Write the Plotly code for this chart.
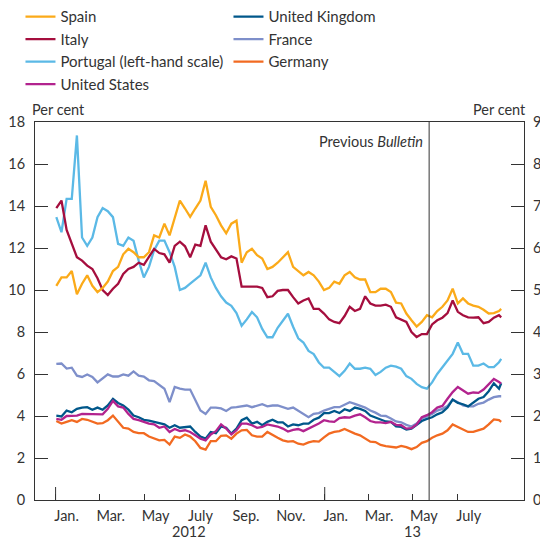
import pandas as pd
import plotly.graph_objects as go

# Weekly observation dates (Mondays) plus the last observation
dates = list(pd.date_range("2012-01-02", periods=87, freq="7D").strftime("%Y-%m-%d")) + ["2013-08-29"]

# Portugal: left-hand scale (per cent)
portugal = [13.47, 12.75, 14.34, 14.34, 17.36, 12.5, 12.1, 12.5, 13.47, 13.9, 13.75, 13.47, 12.2, 12.1, 12.5, 12.35, 11.4, 10.6, 11.1, 11.9, 12.35,
            12.35, 11.8, 11.1, 10.0, 10.1, 10.3, 10.5, 10.7, 11.3, 10.6, 10.1, 9.7, 9.4, 9.25, 8.9, 8.3, 8.6, 8.95, 8.7, 8.15, 7.75, 7.75, 8.2,
            8.55, 8.87, 8.25, 7.7, 7.5, 7.1, 6.95, 6.55, 6.3, 6.3, 6.1, 5.9, 6.15, 6.5, 6.25, 6.25, 6.3, 6.25, 5.95, 6.1, 6.3, 6.4, 6.35,
            6.25, 5.9, 5.77, 5.53, 5.37, 5.3, 5.6, 6.0, 6.33, 6.64, 6.96, 7.5, 6.96, 6.96, 6.4, 6.4, 6.5, 6.33, 6.33, 6.56, 6.72]

# Others: right-hand scale (per cent)
spain = [5.10, 5.30, 5.30, 5.45, 4.90, 5.15, 5.35, 5.10, 4.95, 5.05, 5.20, 5.45, 5.55, 5.85, 5.98, 5.90, 5.78, 5.78, 5.90, 6.30, 6.25,
         6.58, 6.30, 6.74, 7.13, 6.94, 6.74, 6.94, 7.13, 7.60, 6.98, 6.78, 6.54, 6.35, 6.58, 6.65, 5.65, 5.90, 5.98, 5.83, 5.75, 5.50, 5.55, 5.65,
         5.78, 5.90, 5.55, 5.45, 5.35, 5.43, 5.35, 5.20, 5.00, 5.05, 5.20, 5.15, 5.35, 5.43, 5.30, 5.25, 5.25, 4.95, 4.95, 5.03, 5.03, 4.95, 4.70,
         4.68, 4.44, 4.28, 4.13, 4.24, 4.40, 4.35, 4.50, 4.60, 4.75, 5.03, 4.68, 4.80, 4.68, 4.63, 4.60, 4.53, 4.44, 4.45, 4.50, 4.55]

italy = [6.95, 7.13, 6.43, 6.10, 5.78, 5.70, 5.58, 5.50, 5.28, 5.00, 4.88, 5.03, 5.15, 5.38, 5.50, 5.55, 5.65, 5.60, 5.78, 5.98, 5.88,
         5.85, 5.65, 6.05, 6.15, 6.04, 5.78, 6.08, 6.05, 6.54, 6.15, 5.95, 5.78, 5.73, 5.80, 5.75, 5.08, 5.08, 5.08, 5.08, 5.05, 4.83, 4.85, 4.98,
         5.00, 5.00, 4.83, 4.68, 4.75, 4.80, 4.55, 4.55, 4.44, 4.30, 4.24, 4.21, 4.38, 4.60, 4.50, 4.55, 4.85, 4.68, 4.63, 4.63, 4.65, 4.60, 4.35,
         4.30, 4.24, 4.00, 3.88, 3.95, 3.95, 4.18, 4.28, 4.34, 4.45, 4.75, 4.48, 4.40, 4.35, 4.34, 4.35, 4.21, 4.24, 4.34, 4.40, 4.35]

france = [3.24, 3.25, 3.13, 3.15, 2.96, 2.93, 2.99, 2.93, 2.80, 2.89, 2.99, 2.94, 2.94, 2.99, 2.96, 3.06, 2.96, 2.94, 2.85, 2.83, 2.73,
          2.65, 2.33, 2.69, 2.65, 2.63, 2.63, 2.37, 2.13, 2.05, 2.20, 2.20, 2.18, 2.12, 2.20, 2.21, 2.23, 2.25, 2.21, 2.25, 2.28, 2.23, 2.25, 2.25,
          2.21, 2.17, 2.20, 2.12, 2.04, 1.97, 2.05, 2.07, 2.13, 2.17, 2.21, 2.21, 2.28, 2.33, 2.29, 2.24, 2.20, 2.13, 2.08, 2.01, 2.00, 1.94, 1.87,
          1.85, 1.79, 1.75, 1.82, 1.94, 2.00, 2.05, 2.13, 2.17, 2.24, 2.39, 2.33, 2.25, 2.23, 2.23, 2.29, 2.32, 2.39, 2.45, 2.47, 2.47]

uk = [2.01, 1.99, 2.13, 2.09, 2.17, 2.20, 2.21, 2.15, 2.20, 2.15, 2.25, 2.41, 2.31, 2.25, 2.15, 2.01, 1.97, 1.91, 1.89, 1.86, 1.83,
      1.80, 1.72, 1.78, 1.72, 1.74, 1.75, 1.62, 1.51, 1.46, 1.62, 1.59, 1.75, 1.72, 1.58, 1.70, 1.90, 1.96, 1.82, 1.86, 1.78, 1.86, 1.91, 1.85,
      1.85, 1.75, 1.80, 1.78, 1.82, 1.82, 1.91, 1.96, 2.07, 2.07, 2.12, 2.07, 2.16, 2.12, 2.20, 2.17, 2.12, 2.01, 1.96, 1.91, 1.87, 1.86, 1.75,
      1.74, 1.68, 1.70, 1.78, 1.88, 1.93, 1.97, 2.04, 2.09, 2.20, 2.39, 2.31, 2.28, 2.23, 2.31, 2.41, 2.45, 2.59, 2.78, 2.65, 2.78]

us = [1.93, 1.91, 2.00, 2.00, 2.01, 2.05, 2.05, 2.04, 2.05, 2.04, 2.17, 2.36, 2.23, 2.20, 2.05, 1.93, 1.90, 1.86, 1.82, 1.80, 1.72,
      1.75, 1.62, 1.69, 1.64, 1.66, 1.62, 1.54, 1.46, 1.42, 1.56, 1.64, 1.80, 1.70, 1.56, 1.66, 1.82, 1.82, 1.78, 1.72, 1.74, 1.80, 1.78, 1.75,
      1.70, 1.63, 1.67, 1.69, 1.64, 1.70, 1.76, 1.82, 1.90, 1.87, 1.86, 1.95, 1.97, 1.96, 2.01, 2.04, 1.97, 1.88, 1.85, 1.85, 1.83, 1.86, 1.79,
      1.78, 1.70, 1.71, 1.80, 1.97, 2.02, 2.09, 2.20, 2.24, 2.41, 2.57, 2.69, 2.61, 2.53, 2.56, 2.55, 2.63, 2.75, 2.88, 2.81, 2.77]

germany = [1.88, 1.82, 1.86, 1.90, 1.86, 1.93, 1.91, 1.87, 1.82, 1.83, 1.90, 2.01, 1.86, 1.72, 1.70, 1.62, 1.59, 1.59, 1.51, 1.46, 1.42,
           1.43, 1.32, 1.51, 1.48, 1.56, 1.51, 1.40, 1.24, 1.20, 1.40, 1.40, 1.53, 1.54, 1.46, 1.58, 1.66, 1.67, 1.54, 1.51, 1.51, 1.62, 1.54, 1.48,
           1.42, 1.39, 1.40, 1.34, 1.32, 1.37, 1.40, 1.39, 1.49, 1.58, 1.62, 1.64, 1.69, 1.63, 1.58, 1.54, 1.46, 1.39, 1.38, 1.31, 1.28, 1.26, 1.25,
           1.29, 1.26, 1.21, 1.26, 1.36, 1.40, 1.48, 1.54, 1.58, 1.66, 1.80, 1.74, 1.67, 1.62, 1.62, 1.66, 1.70, 1.80, 1.92, 1.90, 1.86]

# Axis ticks
month_ticks = ["2012-01-01", "2012-03-01", "2012-05-01", "2012-07-01", "2012-09-01", "2012-11-01",
               "2013-01-01", "2013-03-01", "2013-05-01", "2013-07-01"]
month_labels = ["Jan.", "Mar.", "May", "July", "Sep.", "Nov.", "Jan.", "Mar.", "May", "July"]
year_starts = ["2012-01-01", "2013-01-01"]
year_labels = [("2012-07-01", "2012"), ("2013-05-01", "13")]
prev_bulletin = "2013-05-23"

FONT = "Lato"
TXT = "#333333"
AX = "#333333"
FS = 14.5

series = [
    # name, data, colour, axis, legend rank
    ("Portugal (left-hand scale)", portugal, "#5BB9E6", "y", 5),
    ("France", france, "#7E8FCA", "y2", 4),
    ("Germany", germany, "#F26A21", "y2", 6),
    ("United Kingdom", uk, "#00578A", "y2", 2),
    ("United States", us, "#B2238E", "y2", 7),
    ("Italy", italy, "#A50E3E", "y2", 3),
    ("Spain", spain, "#FBAA19", "y2", 1),
]

fig = go.Figure()
for name, vals, col, ax, rank in series:
    fig.add_trace(go.Scatter(x=dates, y=vals, name=name, mode="lines", yaxis=ax,
                             line=dict(color=col, width=2.3), legendrank=rank))

# The page adds an 8 px body margin, so the figure is 8 px smaller than the window
fig.update_layout(
    width=540, height=534,
    margin=dict(l=27, r=24, t=114, b=42, autoexpand=False),
    paper_bgcolor="white", plot_bgcolor="white",
    font=dict(family=FONT, size=FS, color=TXT),
    showlegend=True,
    legend=dict(orientation="h", x=-0.0297, xanchor="left", y=1.322, yanchor="top",
                entrywidth=163, entrywidthmode="pixels", font=dict(size=15, color=TXT),
                bgcolor="rgba(0,0,0,0)"),
    xaxis=dict(type="date", range=["2011-12-04", "2013-09-29"],
               tickmode="array", tickvals=month_ticks, ticktext=month_labels,
               ticks="inside", ticklen=6, tickcolor=AX, tickwidth=1,
               ticklabelshift=11, ticklabelstandoff=3,
               showline=True, linecolor=AX, linewidth=1, mirror=True,
               showgrid=False, zeroline=False, tickfont=dict(size=FS, color=TXT)),
    yaxis=dict(range=[0, 18], tickmode="array", tickvals=list(range(0, 19, 2)),
               ticks="inside", ticklen=13, tickcolor=AX, tickwidth=1, ticklabelstandoff=6,
               showline=True, linecolor=AX, linewidth=1,
               showgrid=False, zeroline=False, tickfont=dict(size=FS, color=TXT)),
    yaxis2=dict(range=[0, 9], tickmode="array", tickvals=list(range(0, 10)),
                overlaying="y", side="right", anchor="x",
                ticks="inside", ticklen=13, tickcolor=AX, tickwidth=1, ticklabelstandoff=5,
                showline=True, linecolor=AX, linewidth=1,
                showgrid=False, zeroline=False, tickfont=dict(size=FS, color=TXT)),
)

# Long ticks at year boundaries
for d in year_starts:
    fig.add_shape(type="line", xref="x", yref="paper", x0=d, x1=d, y0=0, y1=13 / 378,
                  line=dict(color=AX, width=1))

# Previous Bulletin marker
fig.add_shape(type="line", xref="x", yref="paper", x0=prev_bulletin, x1=prev_bulletin, y0=0, y1=1,
              line=dict(color=AX, width=1))
fig.add_annotation(xref="x", yref="paper", x=prev_bulletin, y=1, xanchor="right", yanchor="top",
                   xshift=-4, yshift=-8.5, showarrow=False, text="Previous <i>Bulletin</i>",
                   font=dict(size=FS, color=TXT))

# Year labels
for d, t in year_labels:
    fig.add_annotation(xref="x", yref="paper", x=d, y=0, yanchor="top", yshift=-22, borderpad=0,
                       showarrow=False, text=t, font=dict(size=FS, color=TXT))

# Axis unit labels
fig.add_annotation(xref="paper", yref="paper", x=0, y=1, xanchor="left", yanchor="bottom",
                   xshift=-5, yshift=2.5, showarrow=False, text="Per cent", font=dict(size=FS, color=TXT))
fig.add_annotation(xref="paper", yref="paper", x=1, y=1, xanchor="right", yanchor="bottom",
                   xshift=4, yshift=2.5, showarrow=False, text="Per cent", font=dict(size=FS, color=TXT))

fig.write_html("out.html")
